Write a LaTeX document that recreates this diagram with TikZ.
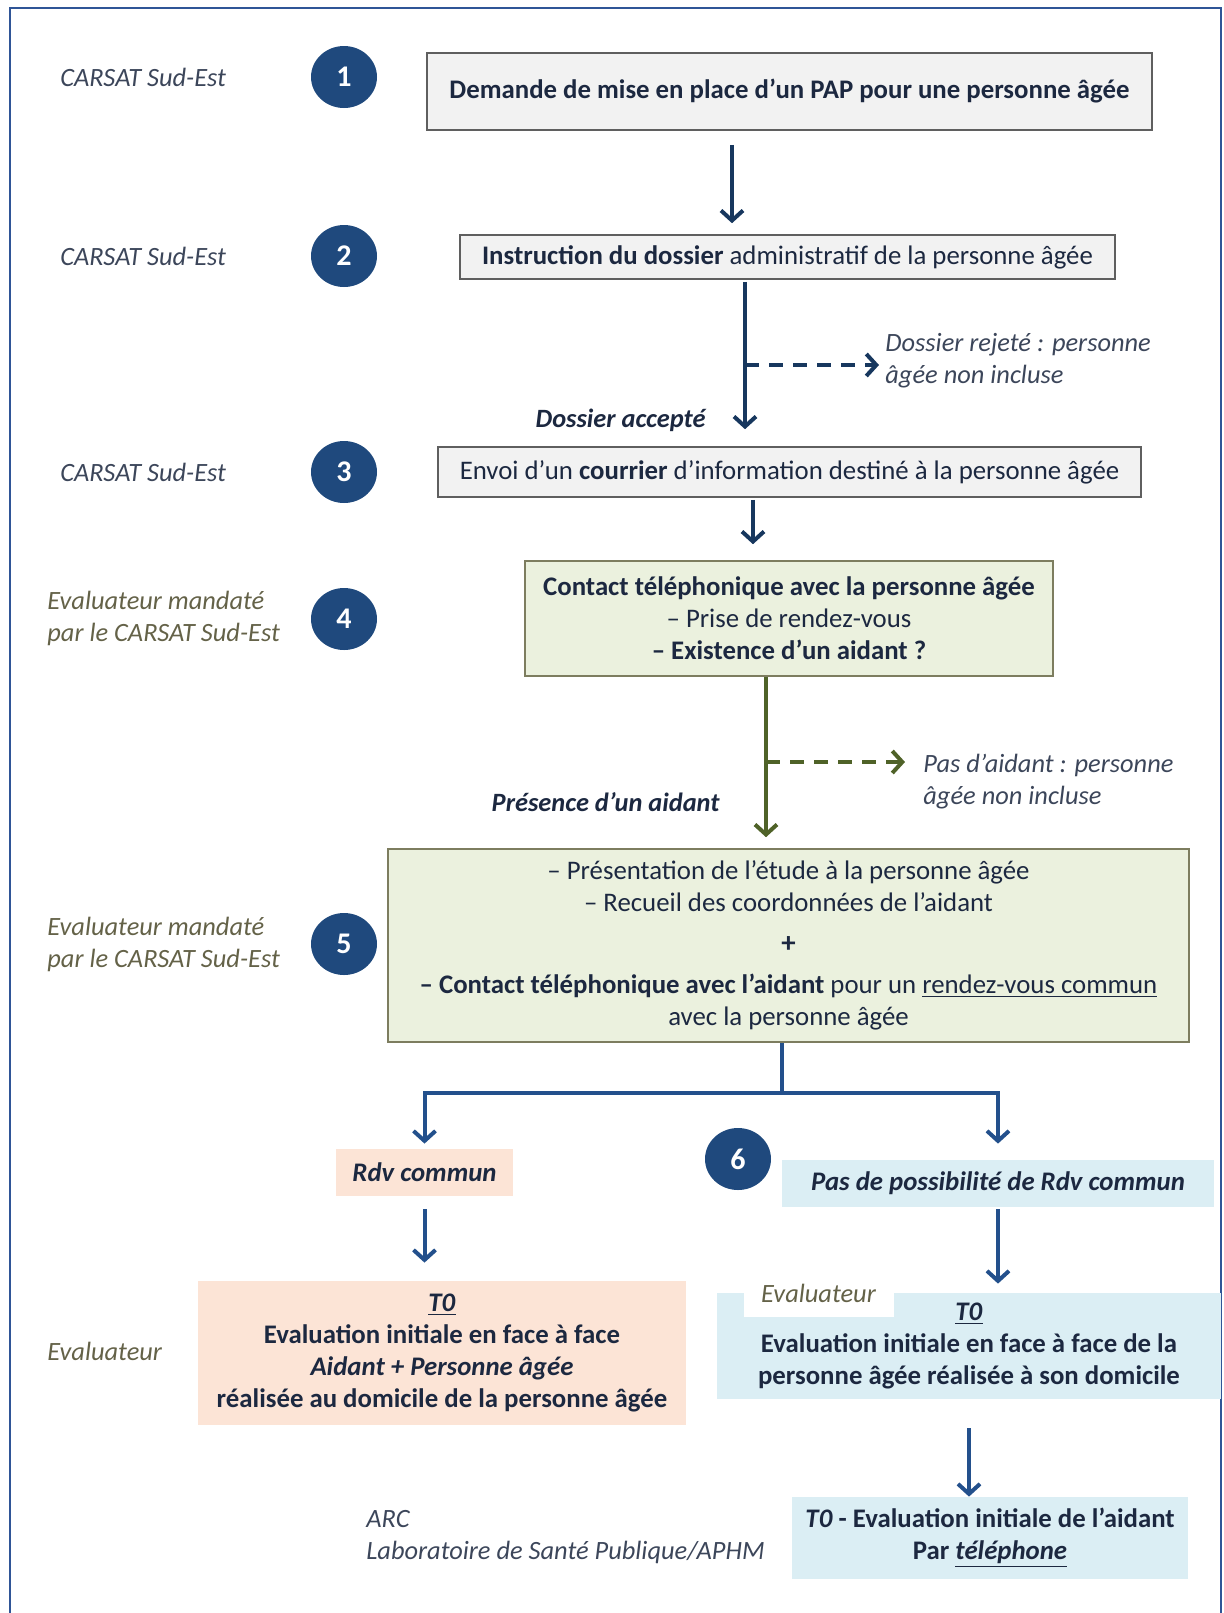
\documentclass[tikz,border=0pt]{standalone}
\usepackage{fontspec}
\setmainfont{Carlito}
\usepackage{tikz}
\usetikzlibrary{arrows.meta,shapes.geometric}
\definecolor{cFrame}{RGB}{47,85,151}
\definecolor{cNum}{RGB}{31,73,125}
\definecolor{cTxt}{RGB}{28,40,64}
\definecolor{cArr}{RGB}{23,55,94}
\definecolor{cArrB}{RGB}{35,80,140}
\definecolor{cGrn}{RGB}{79,98,40}
\definecolor{cGray}{RGB}{242,242,242}
\definecolor{cGrayB}{RGB}{95,95,95}
\definecolor{cOlv}{RGB}{235,241,222}
\definecolor{cOlvB}{RGB}{125,125,95}
\definecolor{cPch}{RGB}{252,228,214}
\definecolor{cBlu}{RGB}{219,238,244}
\definecolor{cLab}{RGB}{60,70,90}
\definecolor{cLabO}{RGB}{100,98,72}

\begin{document}
\begin{tikzpicture}[x=0.5pt,y=-0.5pt,
  txt/.style={font=\fontsize{13.4}{16}\selectfont,text=cTxt,align=center,inner sep=0pt},
  grybox/.style={txt,draw=cGrayB,fill=cGray,line width=0.8pt},
  grnbox/.style={txt,draw=cOlvB,fill=cOlv,line width=0.8pt},
  pchbox/.style={txt,fill=cPch},
  blubox/.style={txt,fill=cBlu},
  num/.style={ellipse,fill=cNum,text=white,font=\fontsize{15}{15}\selectfont\bfseries,minimum width=33pt,minimum height=31pt,inner sep=0pt},
  who/.style={anchor=west,align=left,font=\fontsize{13.2}{16}\selectfont\itshape,text=cLab,inner sep=0pt},
  whoO/.style={who,text=cLabO},
  arr/.style={-{Straight Barb[length=5pt,width=11pt]},line width=2pt,cArr},
  arrB/.style={arr,cArrB},
  arrG/.style={arr,cGrn},
  dsh/.style={dash pattern=on 7pt off 5pt}]
\useasboundingbox (0,0) rectangle (1224,1613);
% frame
\draw[cFrame,line width=1.2pt] (10,1620) -- (10,8) -- (1221,8) -- (1221,1620);

% who does what
\node[who] (w1) at (60,77) {CARSAT Sud-Est};
\node[who] (w2) at (60,256) {CARSAT Sud-Est};
\node[who] (w3) at (60,472) {CARSAT Sud-Est};
\node[whoO] (w4) at (47,618) {Evaluateur mandaté\\par le CARSAT Sud-Est};
\node[whoO] (w5) at (47,944) {Evaluateur mandaté\\par le CARSAT Sud-Est};
\node[whoO] (w6) at (47,1351) {Evaluateur};
\node[who] (w7) at (366,1537) {ARC\\Laboratoire de Santé Publique/APHM};

% step numbers
\node[num] (n1) at (344,77) {1};
\node[num] (n2) at (344,256) {2};
\node[num] (n3) at (344,472) {3};
\node[num] (n4) at (344,619) {4};
\node[num] (n5) at (344,944) {5};
\node[num] (n6) at (738,1159) {6};

% boxes
\node[grybox,minimum width=362.5pt,minimum height=38.5pt] (b1) at (789.5,91.5)
  {\textbf{Demande de mise en place d’un PAP pour une personne âgée}};
\node[grybox,minimum width=327.5pt,minimum height=22pt] (b2) at (787.5,257)
  {\textbf{Instruction du dossier} administratif de la personne âgée};
\node[grybox,minimum width=351.5pt,minimum height=25pt] (b3) at (789.5,472)
  {Envoi d’un \textbf{courrier} d’information destiné à la personne âgée};
\node[grnbox,minimum width=264pt,minimum height=57.5pt] (b4) at (789,618.5)
  {\textbf{Contact téléphonique avec la personne âgée}\\
   – Prise de rendez-vous\\
   \textbf{– Existence d’un aidant ?}};
\node[grnbox,minimum width=400.5pt,minimum height=96.5pt] (b5) at (788.5,945.5)
  {– Présentation de l’étude à la personne âgée\\
   – Recueil des coordonnées de l’aidant\\[4.5pt]
   \textbf{\Large +}\\[4.5pt]
   \textbf{– Contact téléphonique avec l’aidant} pour un \underline{rendez-vous commun}\\
   avec la personne âgée};
\node[pchbox,minimum width=88.5pt,minimum height=23.5pt] (rdv) at (424.5,1172.5)
  {\textbf{\textit{Rdv commun}}};
\node[blubox,minimum width=216pt,minimum height=23.5pt] (pas) at (998,1183.5)
  {\textbf{\textit{Pas de possibilité de Rdv commun}}};
\node[pchbox,minimum width=244pt,minimum height=72pt] (t0l) at (442,1353)
  {\underline{\textbf{\textit{T0}}}\\
   \textbf{Evaluation initiale en face à face}\\
   \textbf{\textit{Aidant + Personne âgée}}\\
   \textbf{réalisée au domicile de la personne âgée}};
\node[blubox,minimum width=252pt,minimum height=53pt] (t0r) at (969,1346)
  {\underline{\textbf{\textit{T0}}}\\
   \textbf{Evaluation initiale en face à face de la}\\
   \textbf{personne âgée réalisée à son domicile}};
\node[whoO,anchor=center,fill=white,minimum width=75pt,minimum height=23.5pt] (w8) at (818.5,1293.5) {Evaluateur};
\node[blubox,minimum width=198pt,minimum height=41pt] (fin) at (990,1538)
  {\textbf{\textit{T0} - Evaluation initiale de l’aidant}\\
   \textbf{Par \underline{\textit{téléphone}}}};

% side texts
\node[who,text=cLab] (rej) at (885,360.5) {Dossier rejeté : personne\\âgée non incluse};
\node[txt,anchor=east,font=\fontsize{13.2}{16}\selectfont\bfseries\itshape] (acc) at (706,420) {Dossier accepté};
\node[who,text=cLab] (pasa) at (923,782) {Pas d’aidant : personne\\âgée non incluse};
\node[txt,anchor=east,font=\fontsize{13.2}{16}\selectfont\bfseries\itshape] (pres) at (720,802) {Présence d’un aidant};

% connectors
\coordinate (x1) at (732,0);
\coordinate (x2) at (745,0);
\coordinate (x3) at (753,0);
\coordinate (x4) at (766,0);
\coordinate (d2) at (745,365);
\coordinate (d4) at (766,762);
\coordinate (j5) at (782,1093);
\draw[arr,shorten <=7pt,shorten >=5.5pt] (b1.south -| x1) -- (b2.north -| x1);
\draw[arr,shorten <=1pt,shorten >=8.5pt] (b2.south -| x2) -- (b3.north -| x2);
\draw[arr,dsh,shorten >=3pt] (d2) -- (d2 -| rej.west);
\draw[arr,shorten <=1pt,shorten >=8pt] (b3.south -| x3) -- (b4.north -| x3);
\draw[arrG,shorten >=5.5pt] (b4.south -| x4) -- (b5.north -| x4);
\draw[arrG,dsh,shorten >=9pt] (d4) -- (d4 -| pasa.west);
\draw[arrB,shorten >=2.5pt] (b5.south -| j5) -- (j5) -| (rdv.north);
\draw[arrB,shorten >=8pt] (j5) -| (pas.north);
\draw[arrB,shorten <=6.5pt,shorten >=9pt] (rdv.south) -- (rdv.south |- t0l.north);
\draw[arrB,shorten <=1pt,shorten >=4.5pt] (pas.south) -- (pas.south |- t0r.north);
\draw[arrB,shorten <=14.5pt] (t0r.south) -- (t0r.south |- fin.north);
\end{tikzpicture}
\end{document}
